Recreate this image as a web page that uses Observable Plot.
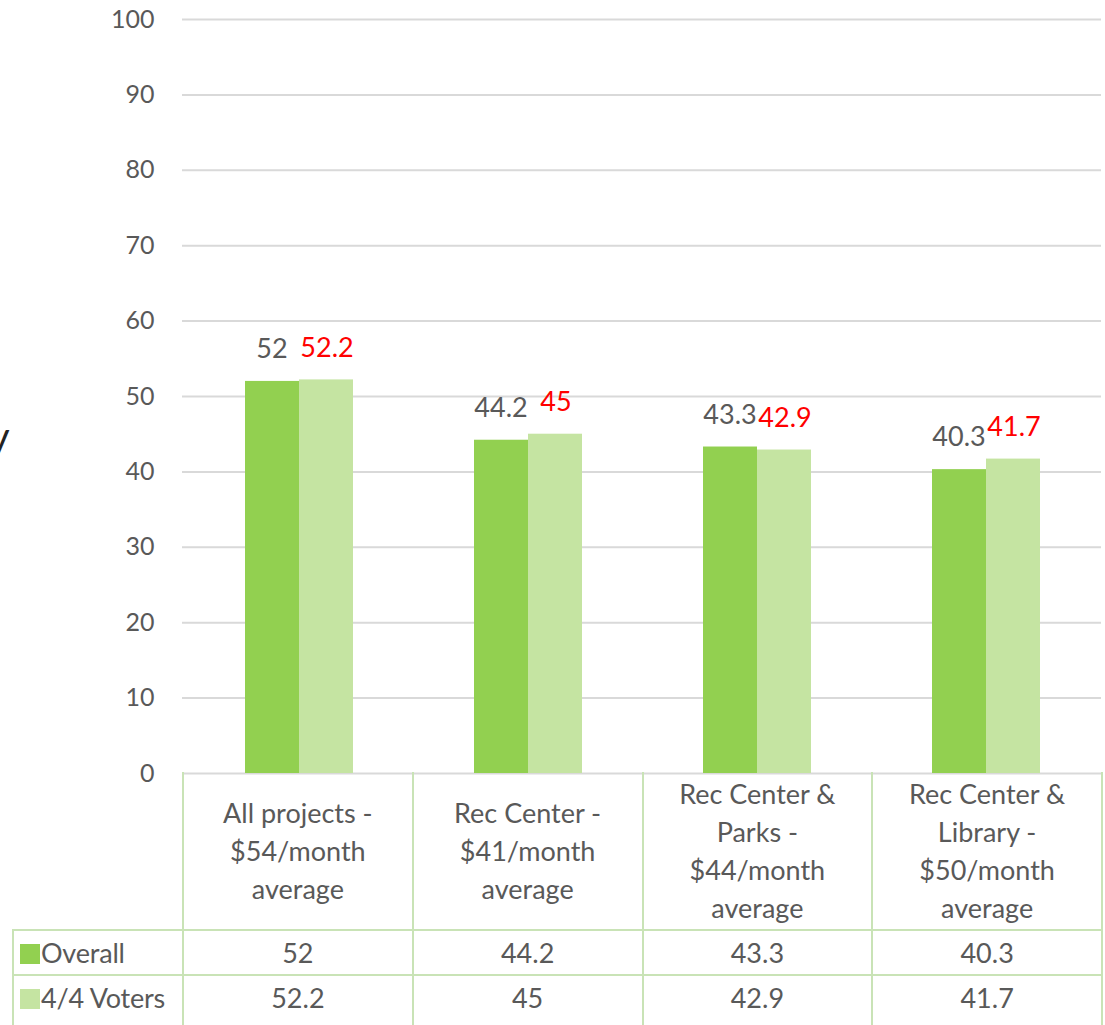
<!DOCTYPE html>
<html>
<head>
<meta charset="utf-8">
<script src="https://cdn.jsdelivr.net/npm/d3@7"></script>
<script src="https://cdn.jsdelivr.net/npm/@observablehq/plot@0.6"></script>
<style>
  html, body { margin: 0; padding: 0; background: #fff; }
  #wrap { position: relative; width: 1105px; height: 1025px; overflow: hidden; font-family: Lato, "Open Sans", sans-serif; }
  #chart { position: absolute; left: 0; top: 0; }
  #frag { position: absolute; left: -11px; top: 412px; font-size: 40px; color: #222; }
  table { position: absolute; left: 12px; top: 772px; border-collapse: collapse; table-layout: fixed; font-family: Lato, "Open Sans", sans-serif; color: #595959; }
  td { border: 2px solid #c9e3b6; text-align: center; padding: 0; font-size: 27px; }
  td.blank { border: none; }
  tr.head td { height: 157px; line-height: 38px; vertical-align: middle; border-top: none; }
  tr.r1 td { height: 43px; }
  tr.r2 td { height: 47px; vertical-align: top; padding-top: 5px; }
  tr.r2 td { height: 52px; }
  td.leg { text-align: left; padding-left: 6px; white-space: nowrap; font-size: 27px; letter-spacing: -0.2px; }
  .sw { display: inline-block; width: 20px; height: 20px; vertical-align: -1px; margin-right: 1px; }
</style>
</head>
<body>
<div id="wrap">
  <div id="chart"></div>
  <div id="frag">y</div>
</div>
<script>
const categories = [
  "All projects -\n$54/month\naverage",
  "Rec Center -\n$41/month\naverage",
  "Rec Center &\nParks -\n$44/month\naverage",
  "Rec Center &\nLibrary -\n$50/month\naverage"
];
const series = ["Overall", "4/4 Voters"];
const overall = [52, 44.2, 43.3, 40.3];
const voters = [52.2, 45, 42.9, 41.7];
const yTicks = [0, 10, 20, 30, 40, 50, 60, 70, 80, 90, 100];
const colors = ["#92d050", "#c5e4a2"];
const labelColors = ["#595959", "#ff0000"];

const data = categories.map((c, i) => ({cat: c, overall: overall[i], voters: voters[i]}));

const chart = Plot.plot({
  width: 1105,
  height: 800,
  marginLeft: 182,
  marginRight: 4,
  marginTop: 19,
  marginBottom: 27,
  style: {fontFamily: "Lato, 'Open Sans', sans-serif", fontSize: "25px", background: "transparent"},
  x: {domain: categories, padding: 0, axis: null},
  y: {domain: [0, 100], axis: null},
  marks: [
    Plot.ruleY(yTicks, {stroke: "#d9d9d9", strokeWidth: 2}),
    Plot.axisY({ticks: yTicks, tickSize: 0, tickPadding: 28, fill: "#595959", fontSize: 25}),
    Plot.barY(data, {x: "cat", y: "overall", fill: colors[0], insetLeft: 61, insetRight: 114}),
    Plot.barY(data, {x: "cat", y: "voters", fill: colors[1], insetLeft: 115, insetRight: 60}),
    Plot.text(data, {x: "cat", y: "overall", text: d => String(d.overall), dx: -27, dy: -32, lineAnchor: "middle", fill: labelColors[0], fontSize: 27}),
    Plot.text(data, {x: "cat", y: "voters", text: d => String(d.voters), dx: 28, dy: -32, lineAnchor: "middle", fill: labelColors[1], fontSize: 27})
  ]
});
document.getElementById("chart").appendChild(chart);

// data table below the chart
const table = document.createElement("table");
const colW = [170, 229.75, 229.75, 229.75, 229.75];
const cg = document.createElement("colgroup");
colW.forEach(w => { const col = document.createElement("col"); col.style.width = w + "px"; cg.appendChild(col); });
table.appendChild(cg);
const head = document.createElement("tr");
head.className = "head";
const blank = document.createElement("td"); blank.className = "blank"; head.appendChild(blank);
categories.forEach(c => {
  const td = document.createElement("td");
  td.innerHTML = c.split("\n").join("<br>");
  head.appendChild(td);
});
table.appendChild(head);
[overall, voters].forEach((vals, si) => {
  const tr = document.createElement("tr");
  tr.className = si === 0 ? "r1" : "r2";
  const leg = document.createElement("td");
  leg.className = "leg";
  leg.innerHTML = `<span class="sw" style="background:${colors[si]}"></span>${series[si]}`;
  tr.appendChild(leg);
  vals.forEach(v => { const td = document.createElement("td"); td.textContent = String(v); tr.appendChild(td); });
  table.appendChild(tr);
});
document.getElementById("wrap").appendChild(table);
</script>
</body>
</html>
